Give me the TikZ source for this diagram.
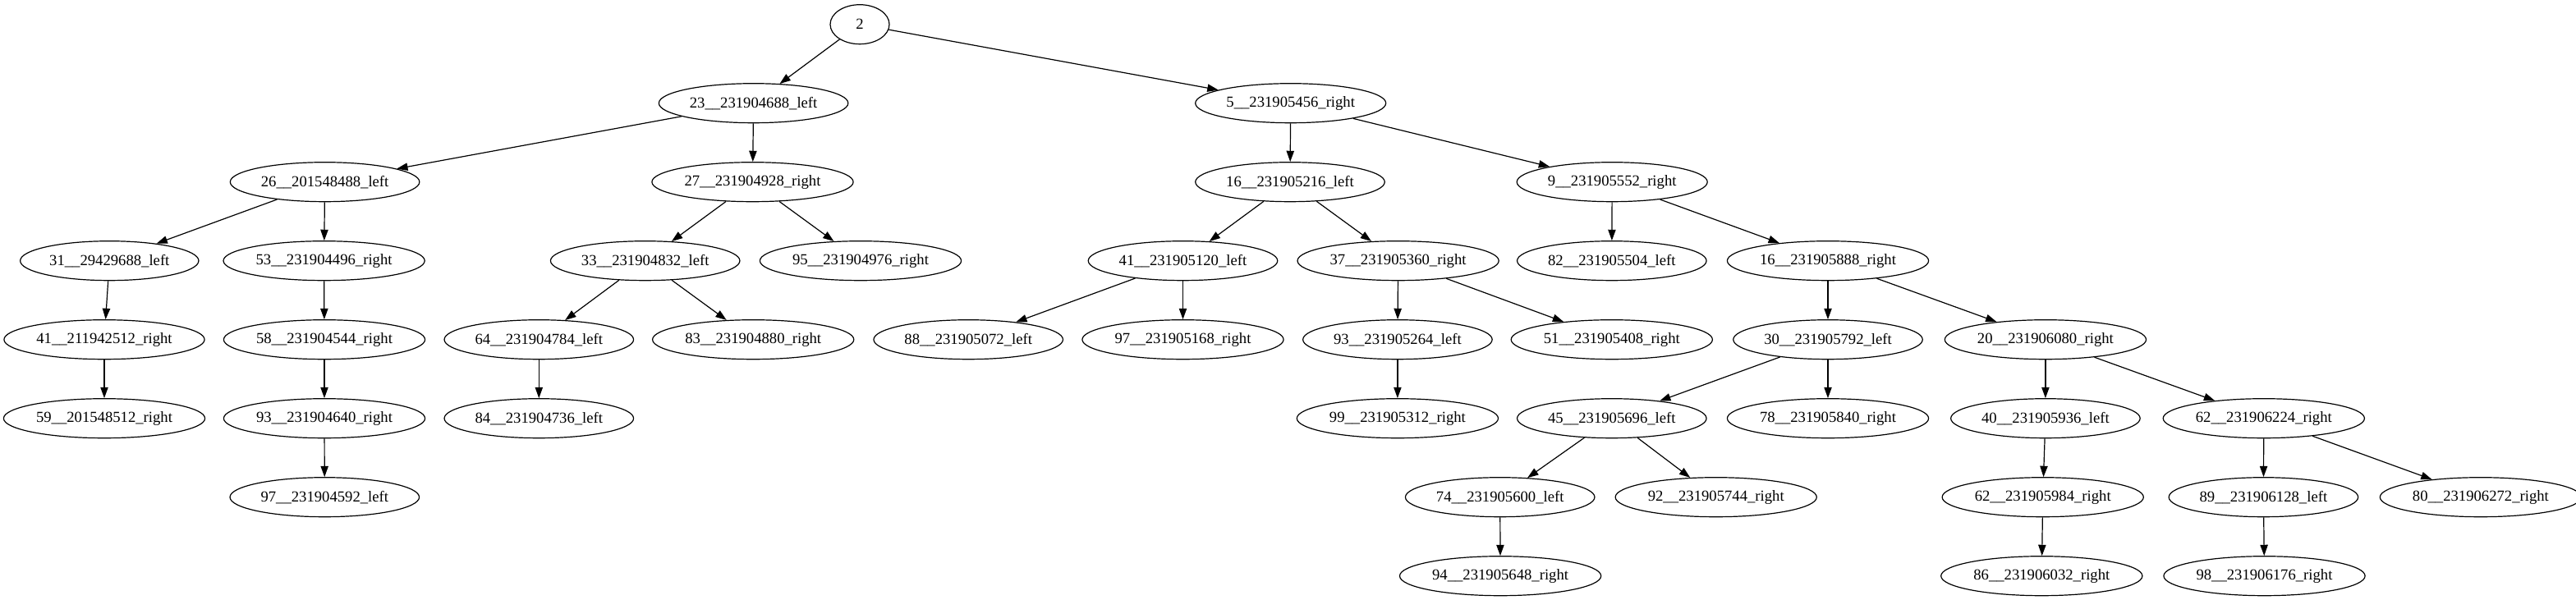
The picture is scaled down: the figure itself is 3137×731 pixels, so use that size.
\documentclass[tikz,border=0pt]{standalone}
\usepackage{fontspec}
\setmainfont{Liberation Serif}
\usetikzlibrary{arrows.meta,shapes.geometric}

\begin{document}
\begin{tikzpicture}[x=0.75pt,y=-0.75pt,
    vertex/.style={draw,ellipse,line width=0.9pt,inner xsep=2.8pt,inner ysep=0pt,
        minimum width=54pt,minimum height=36pt,font=\fontsize{14}{16}\selectfont},
    link/.style={line width=0.9pt,-{Triangle[length=10pt,width=7pt]}}]

    \useasboundingbox (0,0) rectangle (3137,731);

    % Root
    \node[vertex] (n2) at (1047,29.7) {2};

    % Level 1
    \node[vertex] (n23x688) at (917.6,125.7) {23\_\_231904688\_left};
    \node[vertex] (n5x456) at (1571.7,125.7) {5\_\_231905456\_right};

    % Level 2
    \node[vertex] (n26x488) at (395.6,221.7) {26\_\_201548488\_left};
    \node[vertex] (n27x928) at (916.5,221.7) {27\_\_231904928\_right};
    \node[vertex] (n16x216) at (1571,221.7) {16\_\_231905216\_left};
    \node[vertex] (n9x552) at (1963.2,221.7) {9\_\_231905552\_right};

    % Level 3
    \node[vertex] (n31x688) at (133.3,317.7) {31\_\_29429688\_left};
    \node[vertex] (n53x496) at (394.6,317.7) {53\_\_231904496\_right};
    \node[vertex] (n33x832) at (785.7,317.7) {33\_\_231904832\_left};
    \node[vertex] (n95x976) at (1048,317.7) {95\_\_231904976\_right};
    \node[vertex] (n41x120) at (1440.5,317.7) {41\_\_231905120\_left};
    \node[vertex] (n37x360) at (1702.6,317.7) {37\_\_231905360\_right};
    \node[vertex] (n82x504) at (1962.8,317.7) {82\_\_231905504\_left};
    \node[vertex] (n16x888) at (2226,317.7) {16\_\_231905888\_right};

    % Level 4
    \node[vertex] (n41x512) at (127,413.7) {41\_\_211942512\_right};
    \node[vertex] (n58x544) at (395,413.7) {58\_\_231904544\_right};
    \node[vertex] (n64x784) at (656.3,413.7) {64\_\_231904784\_left};
    \node[vertex] (n83x880) at (917.2,413.7) {83\_\_231904880\_right};
    \node[vertex] (n88x072) at (1179.2,413.7) {88\_\_231905072\_left};
    \node[vertex] (n97x168) at (1440.5,413.7) {97\_\_231905168\_right};
    \node[vertex] (n93x264) at (1701.9,413.7) {93\_\_231905264\_left};
    \node[vertex] (n51x408) at (1962.8,413.7) {51\_\_231905408\_right};
    \node[vertex] (n30x792) at (2226,413.7) {30\_\_231905792\_left};
    \node[vertex] (n20x080) at (2490.9,413.7) {20\_\_231906080\_right};

    % Level 5
    \node[vertex] (n59x512) at (127,509.7) {59\_\_201548512\_right};
    \node[vertex] (n93x640) at (395,509.7) {93\_\_231904640\_right};
    \node[vertex] (n84x736) at (656.3,509.7) {84\_\_231904736\_left};
    \node[vertex] (n99x312) at (1701.9,509.7) {99\_\_231905312\_right};
    \node[vertex] (n45x696) at (1962.8,509.7) {45\_\_231905696\_left};
    \node[vertex] (n78x840) at (2226,509.7) {78\_\_231905840\_right};
    \node[vertex] (n40x936) at (2490.9,509.7) {40\_\_231905936\_left};
    \node[vertex] (n62x224) at (2756.8,509.7) {62\_\_231906224\_right};

    % Level 6
    \node[vertex] (n97x592) at (395.3,605.7) {97\_\_231904592\_left};
    \node[vertex] (n74x600) at (1826.7,605.7) {74\_\_231905600\_left};
    \node[vertex] (n92x744) at (2089.7,605.7) {92\_\_231905744\_right};
    \node[vertex] (n62x984) at (2487.7,605.7) {62\_\_231905984\_right};
    \node[vertex] (n89x128) at (2756.4,605.7) {89\_\_231906128\_left};
    \node[vertex] (n80x272) at (3020.9,605.7) {80\_\_231906272\_right};

    % Level 7
    \node[vertex] (n94x648) at (1827.1,701.7) {94\_\_231905648\_right};
    \node[vertex] (n86x032) at (2486.3,701.7) {86\_\_231906032\_right};
    \node[vertex] (n98x176) at (2757.5,701.7) {98\_\_231906176\_right};

    % Left subtree
    \draw[link] (n2) -- (n23x688);
    \draw[link] (n23x688) -- (n26x488);
    \draw[link] (n23x688) -- (n27x928);
    \draw[link] (n26x488) -- (n31x688);
    \draw[link] (n26x488) -- (n53x496);
    \draw[link] (n31x688) -- (n41x512);
    \draw[link] (n41x512) -- (n59x512);
    \draw[link] (n53x496) -- (n58x544);
    \draw[link] (n58x544) -- (n93x640);
    \draw[link] (n93x640) -- (n97x592);
    \draw[link] (n27x928) -- (n33x832);
    \draw[link] (n27x928) -- (n95x976);
    \draw[link] (n33x832) -- (n64x784);
    \draw[link] (n33x832) -- (n83x880);
    \draw[link] (n64x784) -- (n84x736);

    % Right subtree
    \draw[link] (n2) -- (n5x456);
    \draw[link] (n5x456) -- (n16x216);
    \draw[link] (n5x456) -- (n9x552);
    \draw[link] (n16x216) -- (n41x120);
    \draw[link] (n16x216) -- (n37x360);
    \draw[link] (n41x120) -- (n88x072);
    \draw[link] (n41x120) -- (n97x168);
    \draw[link] (n37x360) -- (n93x264);
    \draw[link] (n37x360) -- (n51x408);
    \draw[link] (n93x264) -- (n99x312);
    \draw[link] (n9x552) -- (n82x504);
    \draw[link] (n9x552) -- (n16x888);
    \draw[link] (n16x888) -- (n30x792);
    \draw[link] (n16x888) -- (n20x080);
    \draw[link] (n30x792) -- (n45x696);
    \draw[link] (n30x792) -- (n78x840);
    \draw[link] (n45x696) -- (n74x600);
    \draw[link] (n45x696) -- (n92x744);
    \draw[link] (n74x600) -- (n94x648);
    \draw[link] (n20x080) -- (n40x936);
    \draw[link] (n20x080) -- (n62x224);
    \draw[link] (n40x936) -- (n62x984);
    \draw[link] (n62x984) -- (n86x032);
    \draw[link] (n62x224) -- (n89x128);
    \draw[link] (n62x224) -- (n80x272);
    \draw[link] (n89x128) -- (n98x176);
\end{tikzpicture}
\end{document}
